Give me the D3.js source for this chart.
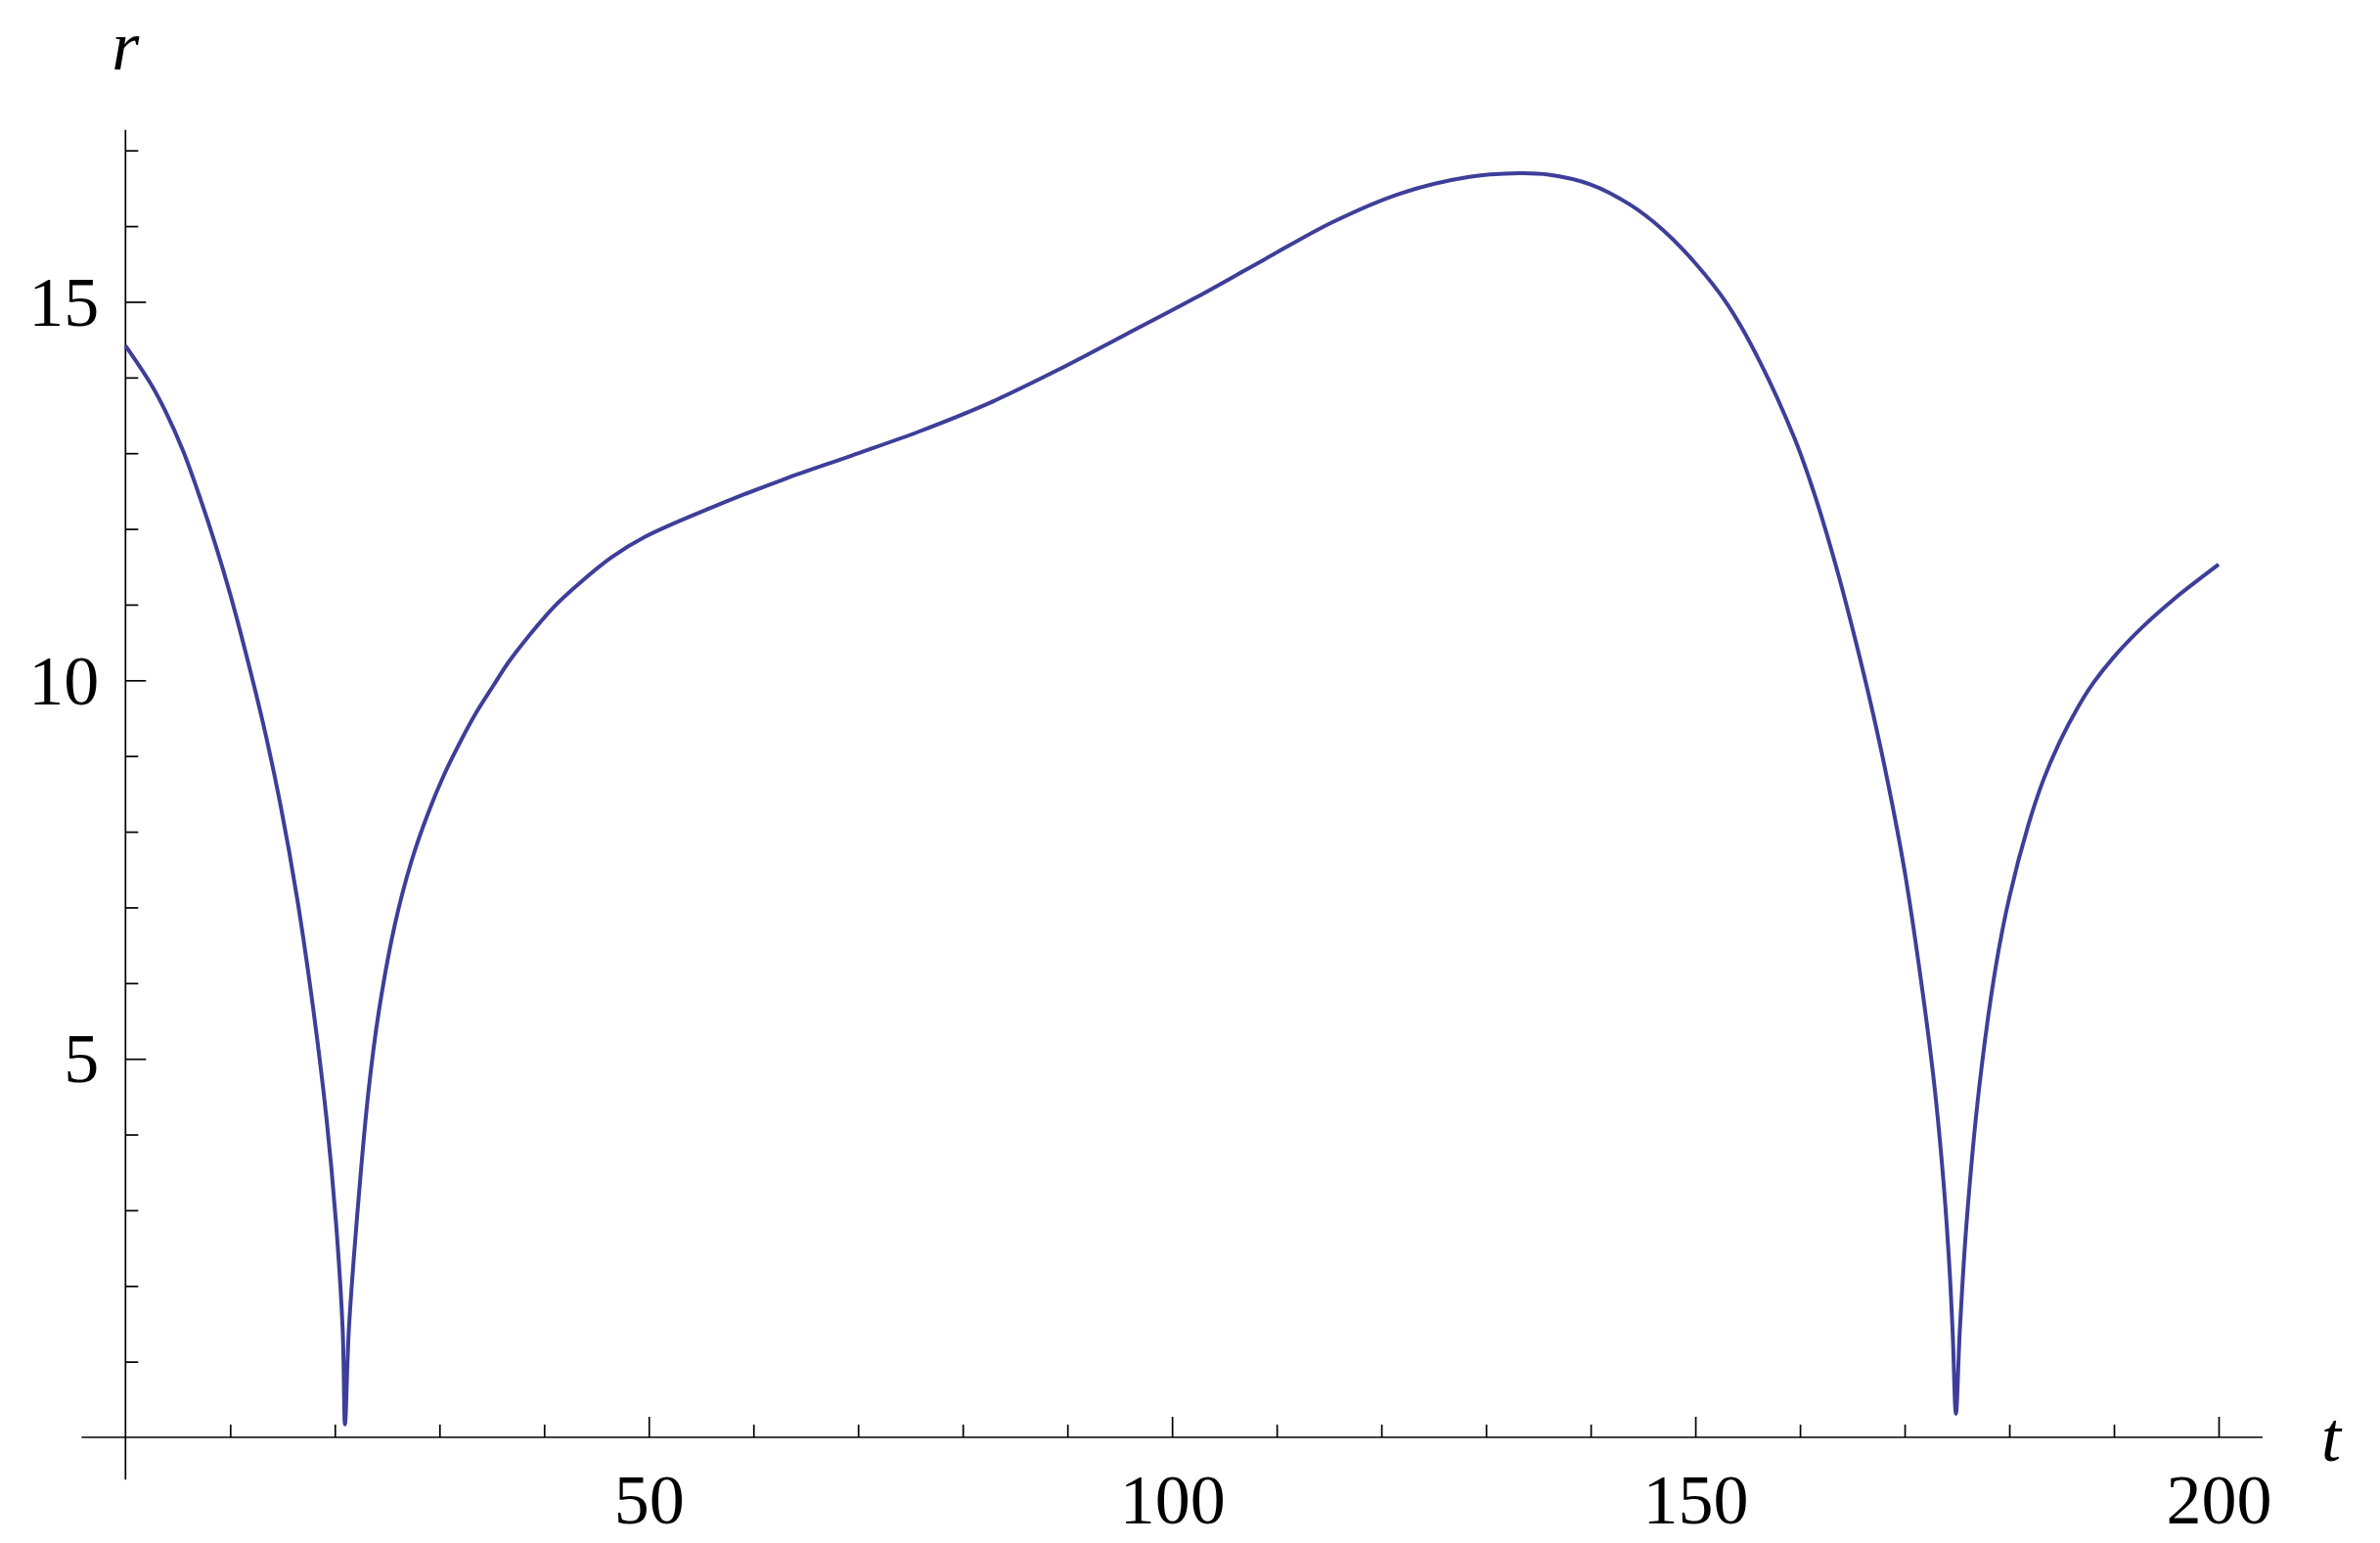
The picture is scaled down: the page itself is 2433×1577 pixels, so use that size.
<!DOCTYPE html>
<html>
<head>
<meta charset="utf-8">
<script src="https://cdn.jsdelivr.net/npm/d3@7/dist/d3.min.js"></script>
<style>
  html, body { margin: 0; padding: 0; background: #fff; }
  svg { display: block; }
  text { font-family: "Liberation Serif", "Times New Roman", serif; fill: #000; }
</style>
</head>
<body>
<svg id="chart" width="2433" height="1577"></svg>
<script>
// ---- data ----
const tValues = [0, 2.4, 3.9, 5.5, 7.0, 8.6, 10, 11.7, 13.3, 14.8, 16.4, 17.9, 19.2, 20.1, 20.75, 20.97,
  21.35, 22.3, 23.2, 24.2, 25.7, 27.3, 28.9, 30.4, 32.0, 33.5, 35.1, 36.6, 38.5, 40.8, 43.2, 46.4, 49.7,
  56.3, 62.8, 69.4, 75.9, 82.5, 89.1, 95.6, 102.2, 108.7, 115.3, 121.8, 128.4, 133.2, 136.0, 140,
  143.8, 146.9, 150, 153.1, 156.2, 159.5, 160.9, 162.2, 163.7, 165.3, 166.9, 168.4, 170, 171.5,
  172.8, 173.7, 174.3, 174.6, 174.9,
  175.27, 175.9, 177.1, 178.7, 180, 181.8, 183.3, 184.9, 186.5, 188, 190, 192.7, 195.8, 198, 200];
const rValues = [14.42, 13.92, 13.53, 13.03, 12.46, 11.79, 11.14, 10.25, 9.34, 8.36, 7.12, 5.70, 4.22, 2.86, 1.43, 0.17,
  1.44, 3.20, 4.55, 5.62, 6.75, 7.60, 8.24, 8.74, 9.19, 9.57, 9.92, 10.24, 10.58, 10.95, 11.26, 11.62, 11.90,
  12.30, 12.65, 12.97, 13.29, 13.66, 14.10, 14.57, 15.05, 15.55, 16.05, 16.43, 16.65, 16.70, 16.68, 16.55,
  16.28, 15.95, 15.51, 14.96, 14.20, 13.19, 12.66, 12.10, 11.38, 10.53, 9.61, 8.65, 7.48, 6.10,
  4.70, 3.40, 2.20, 1.35, 0.31,
  1.40, 2.80, 4.59, 6.21, 7.13, 8.08, 8.70, 9.21, 9.63, 9.96, 10.31, 10.70, 11.08, 11.32, 11.53];
const xMajorTicks = [50, 100, 150, 200];
const xMinorTicks = d3.range(10, 201, 10);
const yMajorTicks = [5, 10, 15];
const yMinorTicks = d3.range(1, 18, 1);
const xLabel = "t";
const yLabel = "r";

// ---- layout ----
const svg = d3.select("#chart");
const x = d3.scaleLinear().domain([0, 200]).range([128.3, 2268]);
const y = d3.scaleLinear().domain([0, 17]).range([1469, 1469 - 17 * 77.37]);

const axisColor = "#000";
const axisWidth = 1.7;
const fontSize = 72;

// axis lines (extend slightly beyond the data range, as in the reference)
svg.append("line")
  .attr("x1", x(-4.2)).attr("x2", x(204.2))
  .attr("y1", y(0)).attr("y2", y(0))
  .attr("stroke", axisColor).attr("stroke-width", axisWidth);
svg.append("line")
  .attr("x1", x(0)).attr("x2", x(0))
  .attr("y1", y(-0.56)).attr("y2", y(17.27))
  .attr("stroke", axisColor).attr("stroke-width", axisWidth);

// x axis minor ticks
const gxMinor = svg.append("g").attr("transform", `translate(0,${y(0)})`)
  .call(d3.axisBottom(x).tickValues(xMinorTicks.filter(v => !xMajorTicks.includes(v)))
    .tickSize(-13).tickFormat(""));
// x axis major ticks
const gxMajor = svg.append("g").attr("transform", `translate(0,${y(0)})`)
  .call(d3.axisBottom(x).tickValues(xMajorTicks).tickSize(-21).tickPadding(37)
    .tickFormat(d3.format("d")));

// y axis minor ticks
const gyMinor = svg.append("g").attr("transform", `translate(${x(0)},0)`)
  .call(d3.axisLeft(y).tickValues(yMinorTicks.filter(v => !yMajorTicks.includes(v)))
    .tickSize(-13).tickFormat(""));
const gyMajor = svg.append("g").attr("transform", `translate(${x(0)},0)`)
  .call(d3.axisLeft(y).tickValues(yMajorTicks).tickSize(-21).tickPadding(27)
    .tickFormat(d3.format("d")));

[gxMinor, gxMajor, gyMinor, gyMajor].forEach(g => {
  g.select(".domain").remove();
  g.selectAll(".tick line").attr("stroke", axisColor).attr("stroke-width", axisWidth);
  g.selectAll(".tick text")
    .attr("font-family", '"Liberation Serif", "Times New Roman", serif')
    .attr("font-size", fontSize)
    .attr("fill", "#000");
});
gxMajor.selectAll(".tick text").attr("dy", "0.71em");
gyMajor.selectAll(".tick text").attr("dy", "0.33em");

// axis labels
svg.append("text")
  .attr("x", x(0) - 14).attr("y", 71)
  .attr("font-size", fontSize).attr("font-style", "italic")
  .text(yLabel);
svg.append("text")
  .attr("x", x(204.2) + 60).attr("y", 1493)
  .attr("font-size", fontSize).attr("font-style", "italic")
  .text(xLabel);

// curve
const data = tValues.map((t, i) => ({ t, r: rValues[i] }));
const line = d3.line().x(d => x(d.t)).y(d => y(d.r)).curve(d3.curveCatmullRom.alpha(0.5));
svg.append("path")
  .datum(data)
  .attr("d", line)
  .attr("fill", "none")
  .attr("stroke", "rgb(62,62,154)")
  .attr("stroke-width", 4)
  .attr("stroke-linejoin", "round");
</script>
</body>
</html>
